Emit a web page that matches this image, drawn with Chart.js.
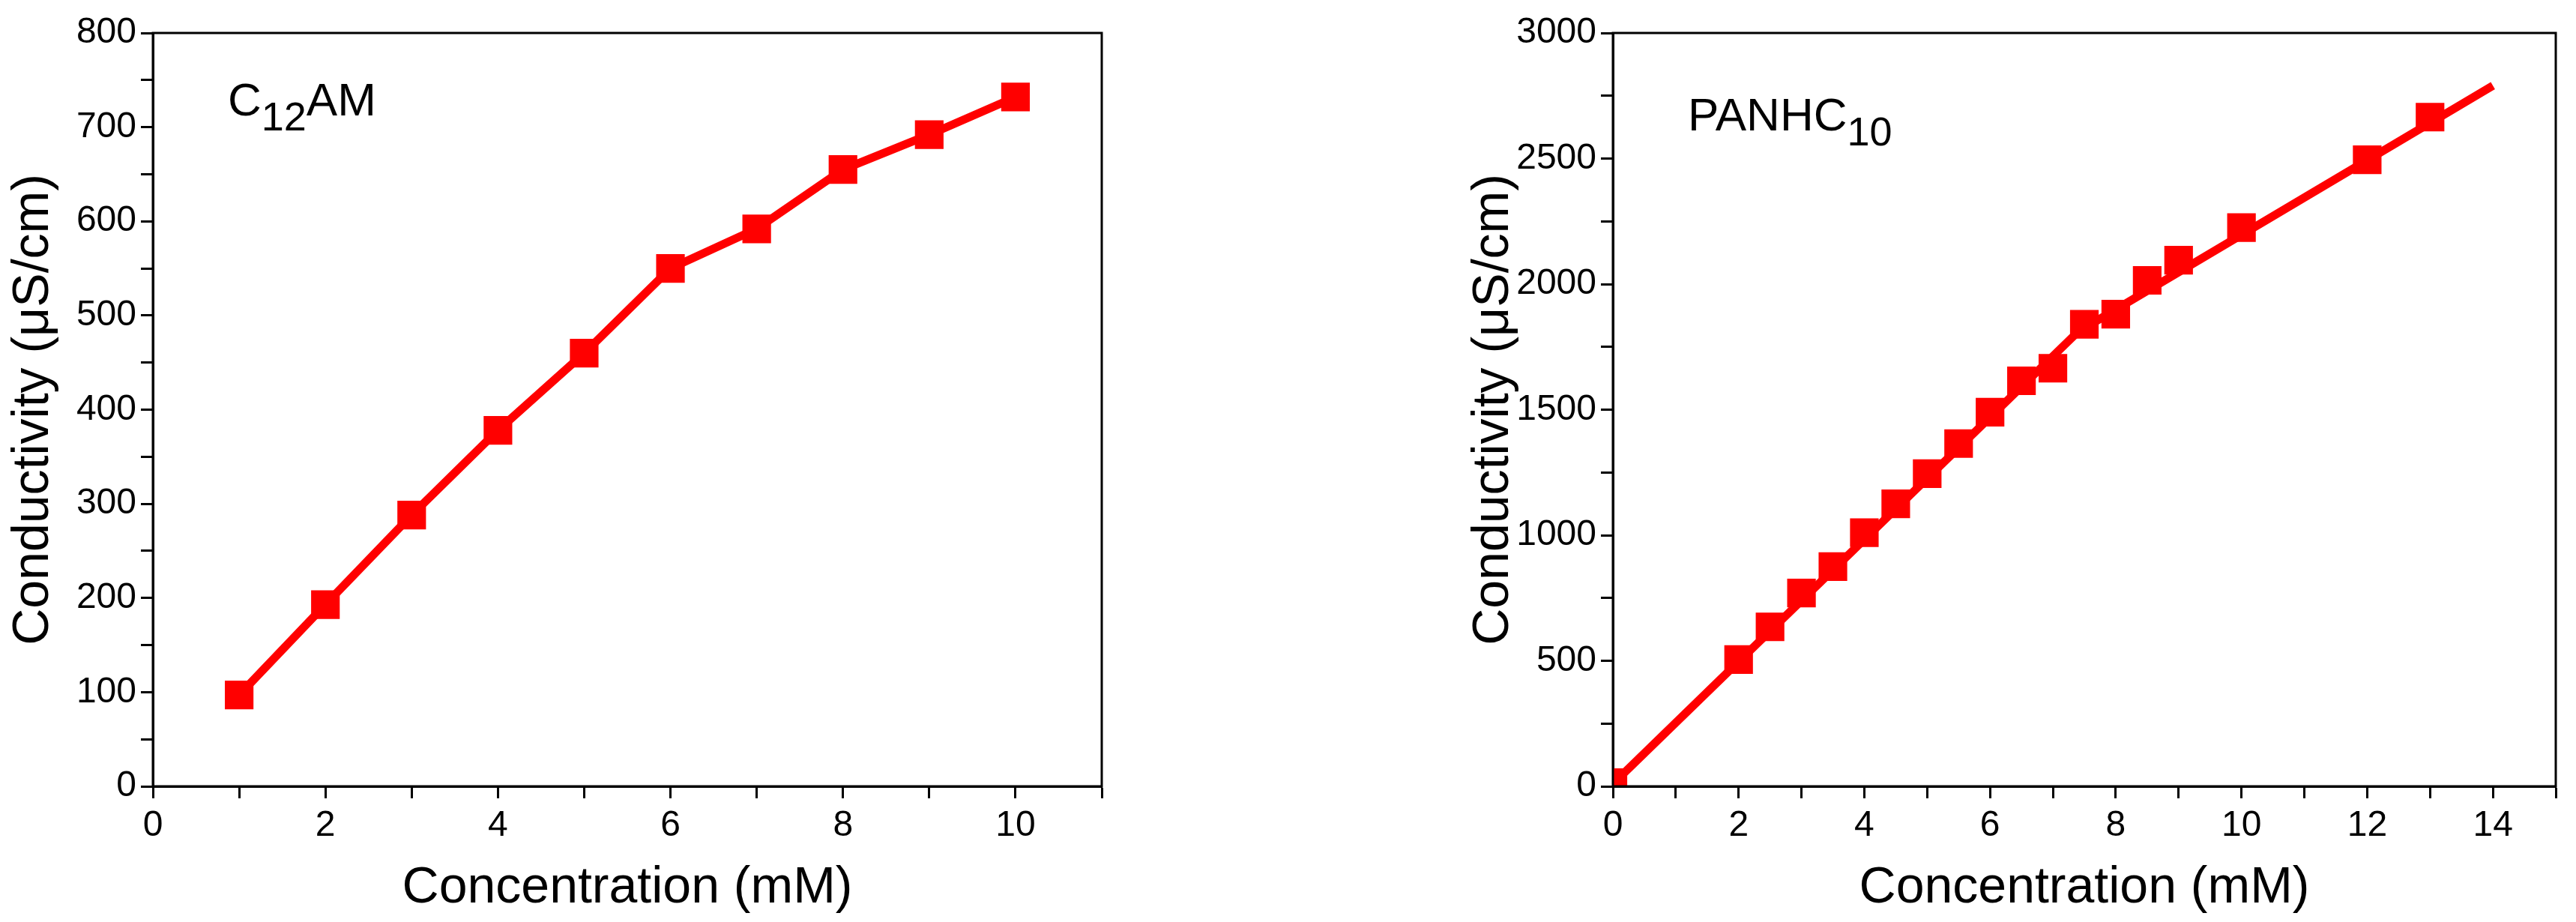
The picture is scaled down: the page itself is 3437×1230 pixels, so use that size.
<!DOCTYPE html>
<html>
<head>
<meta charset="utf-8">
<script src="https://cdn.jsdelivr.net/npm/chart.js@4"></script>
<style>
  body { margin: 0; background: #fff; }
  .box { position: absolute; top: 0; height: 1230px; }
</style>
</head>
<body>
<div class="box" style="left:0;width:1718px"><canvas id="c1"></canvas></div>
<div class="box" style="left:1718px;width:1719px"><canvas id="c2"></canvas></div>
<script>
// C12AM data
const c12Conc = [1, 2, 3, 4, 5, 6, 7, 8, 9, 10];
const c12Cond = [97, 193, 288, 378, 460, 550, 592, 655, 692, 732];

// PANHC10 data
const panConc = [0, 2, 2.5, 3, 3.5, 4, 4.5, 5, 5.5, 6, 6.5, 7, 7.5, 8, 8.5, 9, 10, 12, 13];
const panCond = [15, 505, 635, 770, 875, 1010, 1125, 1245, 1365, 1490, 1615, 1665, 1840, 1880, 2015, 2095, 2225, 2495, 2665];
// two fitted line segments
const panFitX = [0, 7.4, 14];
const panFitY = [10, 1810, 2790];

const RED = '#ff0000';
const FONT = 'Liberation Sans, Arial, sans-serif';

const frame = {
  id: 'frame',
  afterDraw(chart) {
    const { ctx, chartArea: a } = chart;
    ctx.save();
    ctx.strokeStyle = '#000';
    ctx.lineWidth = 3;
    ctx.strokeRect(a.left, a.top, a.right - a.left, a.bottom - a.top);
    // label with subscript
    const o = chart.options.plugins.frame;
    let x = a.left + o.x, y = a.top + o.y;
    ctx.fillStyle = '#000';
    ctx.textBaseline = 'alphabetic';
    o.parts.forEach(p => {
      ctx.font = (p.sub ? 54 : 62) + 'px ' + FONT;
      ctx.fillText(p.t, x, y + (p.sub ? 20 : 0));
      x += ctx.measureText(p.t).width;
    });
    ctx.restore();
  }
};

function pts(xs, ys) { return xs.map((x, i) => ({ x: x, y: ys[i] })); }

function makeChart(id, datasets, xMax, xStep, yMax, yStep, padL, padR, label) {
  new Chart(document.getElementById(id), {
    type: 'scatter',
    data: { datasets: datasets },
    plugins: [frame],
    options: {
      responsive: true, maintainAspectRatio: false, animation: false,
      layout: { padding: { left: padL, right: padR, top: 44, bottom: 0 } },
      plugins: { legend: { display: false }, tooltip: { enabled: false }, frame: label },
      scales: {
        x: {
          min: 0, max: xMax,
          ticks: { stepSize: xStep / 2, color: '#000', font: { size: 48, family: FONT }, padding: 8, maxRotation: 0,
            callback: v => (Math.abs(v / xStep - Math.round(v / xStep)) < 1e-6 ? v : '') },
          grid: { drawOnChartArea: false, tickLength: 16, tickWidth: 3, color: '#000' },
          border: { color: '#000', width: 3 },
          title: { display: true, text: 'Concentration (mM)', color: '#000', font: { size: 68, family: FONT }, padding: { top: 22 } },
          afterFit: s => { s.height = 181; }
        },
        y: {
          min: 0, max: yMax,
          ticks: { stepSize: yStep / 2, color: '#000', font: { size: 48, family: FONT }, padding: 6,
            callback: v => (v % yStep === 0 ? v : '') },
          grid: { drawOnChartArea: false, tickLength: 16, tickWidth: 3, color: '#000' },
          border: { color: '#000', width: 3 },
          title: { display: true, text: 'Conductivity (\u03bcS/cm)', color: '#000', font: { size: 68, family: FONT }, padding: { bottom: 10 } },
          afterFit: s => { s.width = 204; }
        }
      }
    }
  });
}

makeChart('c1', [{
  data: pts(c12Conc, c12Cond), showLine: true, borderColor: RED, borderWidth: 11,
  pointStyle: 'rect', pointRadius: 27, backgroundColor: RED, pointBorderWidth: 0
}], 11, 2, 800, 100, 0, 248, { x: 100, y: 110, parts: [{ t: 'C' }, { t: '12', sub: true }, { t: 'AM' }] });

makeChart('c2', [{
  data: pts(panFitX, panFitY), showLine: true, borderColor: RED, borderWidth: 11, pointRadius: 0
}, {
  data: pts(panConc, panCond), showLine: false,
  pointStyle: 'rect', pointRadius: 27, backgroundColor: RED, borderColor: RED, pointBorderWidth: 0
}], 15, 2, 3000, 500, 230, 27, { x: 100, y: 130, parts: [{ t: 'PANHC' }, { t: '10', sub: true }] });
</script>
</body>
</html>
